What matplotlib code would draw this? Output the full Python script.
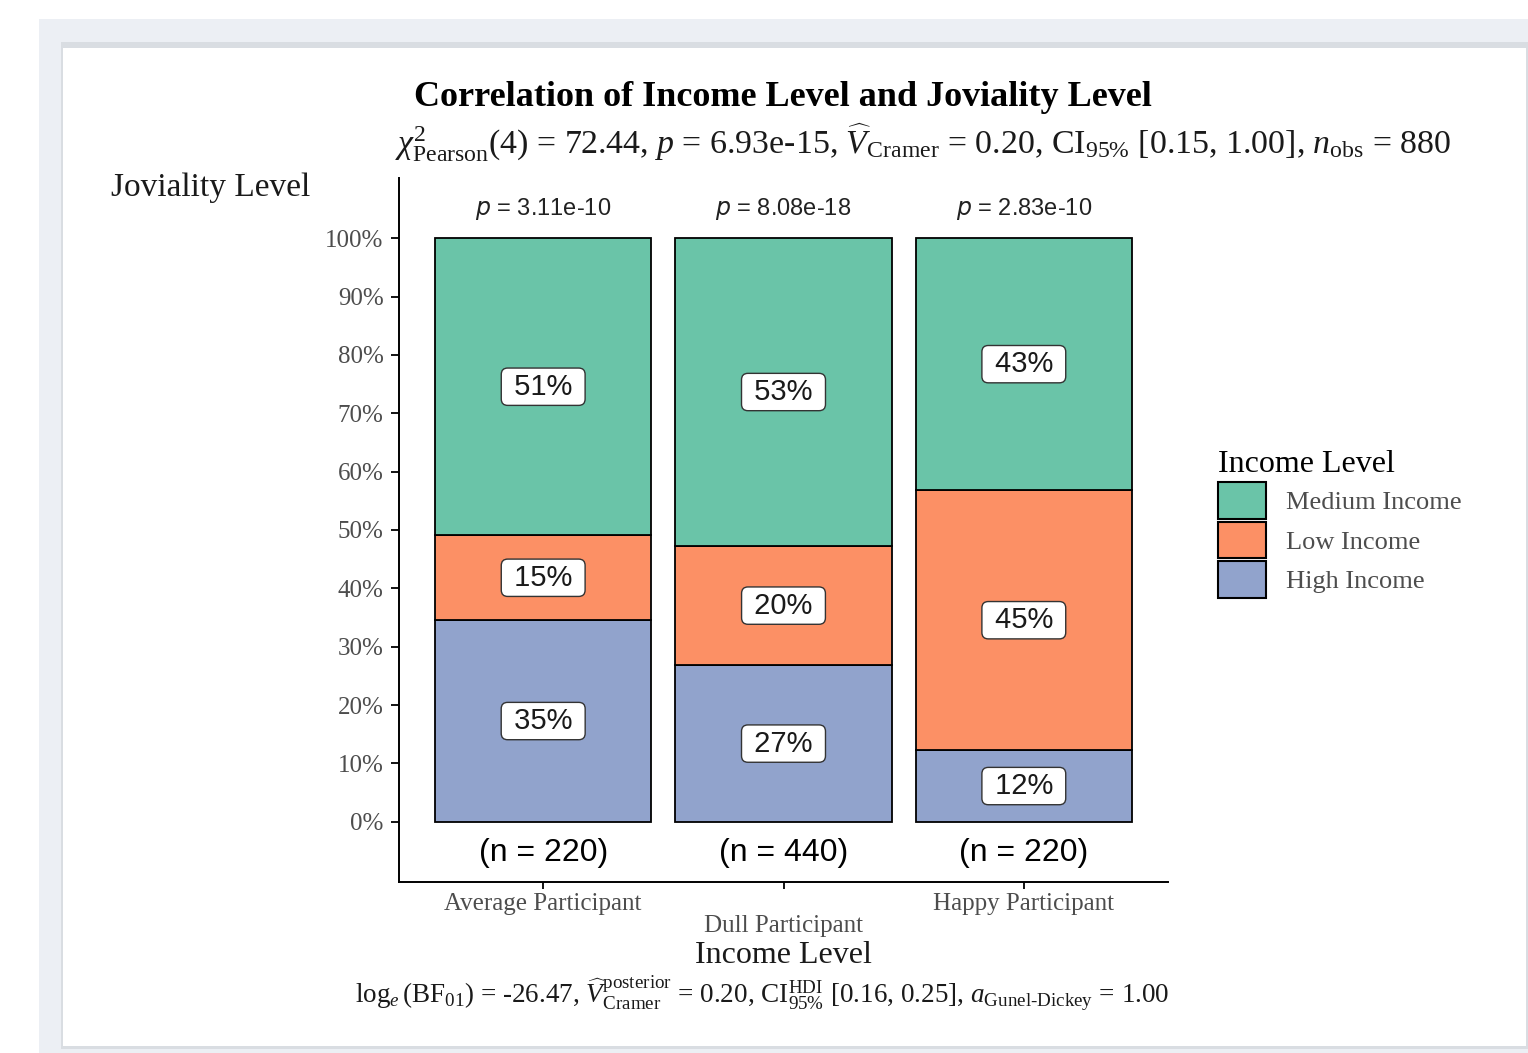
import matplotlib
matplotlib.use("Agg")
import matplotlib.pyplot as plt
from matplotlib.patches import Rectangle, Patch
import numpy as np

# ---- data -------------------------------------------------------------
groups = ["Average Participant", "Dull Participant", "Happy Participant"]
tick_labels = ["Average Participant", "\nDull Participant", "Happy Participant"]
levels = ["High Income", "Low Income", "Medium Income"]          # stacking order (bottom -> top)
counts = {
    "High Income":   [76, 118, 27],
    "Low Income":    [32, 90, 98],
    "Medium Income": [112, 232, 95],
}
p_values = ["3.11e-10", "8.08e-18", "2.83e-10"]
colors = {"Medium Income": "#6AC4A8", "Low Income": "#FC9065", "High Income": "#91A3CC"}

title = "Correlation of Income Level and Joviality Level"
subtitle = (r"$\chi^2_{\mathrm{Pearson}}(4)$ = 72.44, $p$ = 6.93e-15, "
            r"$\widehat{V}_{\mathrm{Cramer}}$ = 0.20, CI$_{95\%}$ [0.15, 1.00], "
            r"$n_{\mathrm{obs}}$ = 880")
caption = (r"$\log_e(\mathrm{BF}_{01})$ = -26.47, "
           r"$\widehat{V}^{\mathrm{posterior}}_{\mathrm{Cramer}}$ = 0.20, "
           r"CI$^{\mathrm{HDI}}_{95\%}$ [0.16, 0.25], "
           r"$a_{\mathrm{Gunel\text{-}Dickey}}$ = 1.00")

# ---- style ------------------------------------------------------------
plt.rcParams["font.family"] = ["Liberation Serif", "DejaVu Serif"]
plt.rcParams["mathtext.fontset"] = "custom"
plt.rcParams["mathtext.rm"] = "Liberation Serif"
plt.rcParams["mathtext.it"] = "Liberation Serif:italic"
plt.rcParams["mathtext.bf"] = "Liberation Serif:bold"
SANS = ["Liberation Sans", "DejaVu Sans"]

W, H = 1528, 1053
fig = plt.figure(figsize=(W / 100, H / 100), dpi=100)
fig.patch.set_facecolor("white")

def px_rect(x0, y0, x1, y1, color, z):
    """Rectangle given in pixel coords measured from the top-left corner."""
    fig.add_artist(Rectangle((x0 / W, 1 - y1 / H), (x1 - x0) / W, (y1 - y0) / H,
                             transform=fig.transFigure, facecolor=color,
                             edgecolor="none", zorder=z))

# page background and card
px_rect(39, 19, W, H, "#eceff4", -10)
px_rect(61, 42, W, 1049, "#d9dde2", -9)
px_rect(63, 48, 1526, 1046, "white", -8)

# ---- axes -------------------------------------------------------------
ax_l, ax_r, ax_b, ax_t = 399, 1168, 882, 178
ax = fig.add_axes([ax_l / W, 1 - ax_b / H, (ax_r - ax_l) / W, (ax_b - ax_t) / H])
ax.set_facecolor("none")

x = np.arange(1, len(groups) + 1)
totals = np.sum([counts[k] for k in levels], axis=0)
bottom = np.zeros(len(groups))
for lev in levels:
    frac = np.array(counts[lev]) / totals
    ax.bar(x, frac, width=0.9, bottom=bottom, color=colors[lev],
           edgecolor="black", linewidth=1.3, zorder=2)
    for xi, b, f in zip(x, bottom, frac):
        ax.text(xi, b + f / 2, f" {round(f * 100):.0f}% ", ha="center", va="center",
                fontsize=21, family=SANS, color="#1a1a1a", zorder=4,
                bbox=dict(boxstyle="round,pad=0.16,rounding_size=0.22",
                          fc="white", ec="#333333", lw=1.0))
    bottom += frac

for xi, n in zip(x, totals):
    ax.text(xi, -0.053, f"(n = {n})", ha="center", va="center",
            fontsize=23, family=SANS, color="black")
for xi, p in zip(x, p_values):
    ax.text(xi, 1.05, f"$p$ = {p}", ha="center", va="center",
            fontsize=17, family=SANS, math_fontfamily="dejavusans", color="#222222")

ax.set_xlim(0.4, 3.6)
ax.set_ylim(-0.103, 1.103)
ax.set_yticks(np.linspace(0, 1, 11))
ax.set_yticklabels([f"{v}%" for v in range(0, 101, 10)])
ax.set_xticks(x)
ax.set_xticklabels(tick_labels, linespacing=0.98)
ax.tick_params(axis="y", labelsize=18, labelcolor="#4d4d4d", length=6, width=1.3, pad=5)
ax.tick_params(axis="x", labelsize=18, labelcolor="#4d4d4d", length=5, width=1.3, pad=3)
for s in ["top", "right"]:
    ax.spines[s].set_visible(False)
for s in ["left", "bottom"]:
    ax.spines[s].set_linewidth(1.4)

ax.set_xlabel("Income Level", fontsize=23, color="#1a1a1a", labelpad=3)

# ---- titles -----------------------------------------------------------
fig.text(783 / W, 1 - 98 / H, title, ha="center", va="center",
         fontsize=26, fontweight="bold", color="black")
fig.text(923 / W, 1 - 143 / H, subtitle, ha="center", va="center",
         fontsize=24.4, color="#1a1a1a")
fig.text(762 / W, 1 - 994 / H, caption, ha="center", va="center",
         fontsize=19.5, color="#1a1a1a")
fig.text(111 / W, 1 - 188 / H, "Joviality Level", ha="left", va="center",
         fontsize=24, color="#1a1a1a")

# ---- legend -----------------------------------------------------------
handles = [Patch(facecolor=colors[k], edgecolor="black", linewidth=1.5, label=k)
           for k in ["Medium Income", "Low Income", "High Income"]]
leg = fig.legend(handles=handles, title="Income Level", loc="upper left",
                 bbox_to_anchor=(1214 / W, 1 - 446 / H), frameon=False,
                 fontsize=19, title_fontsize=23, alignment="left",
                 handlelength=1.82, handleheight=1.75, labelspacing=0.12,
                 handletextpad=0.75, borderaxespad=0, borderpad=0.15)
for t in leg.get_texts():
    t.set_color("#4d4d4d")

fig.savefig("out.png", dpi=100)
